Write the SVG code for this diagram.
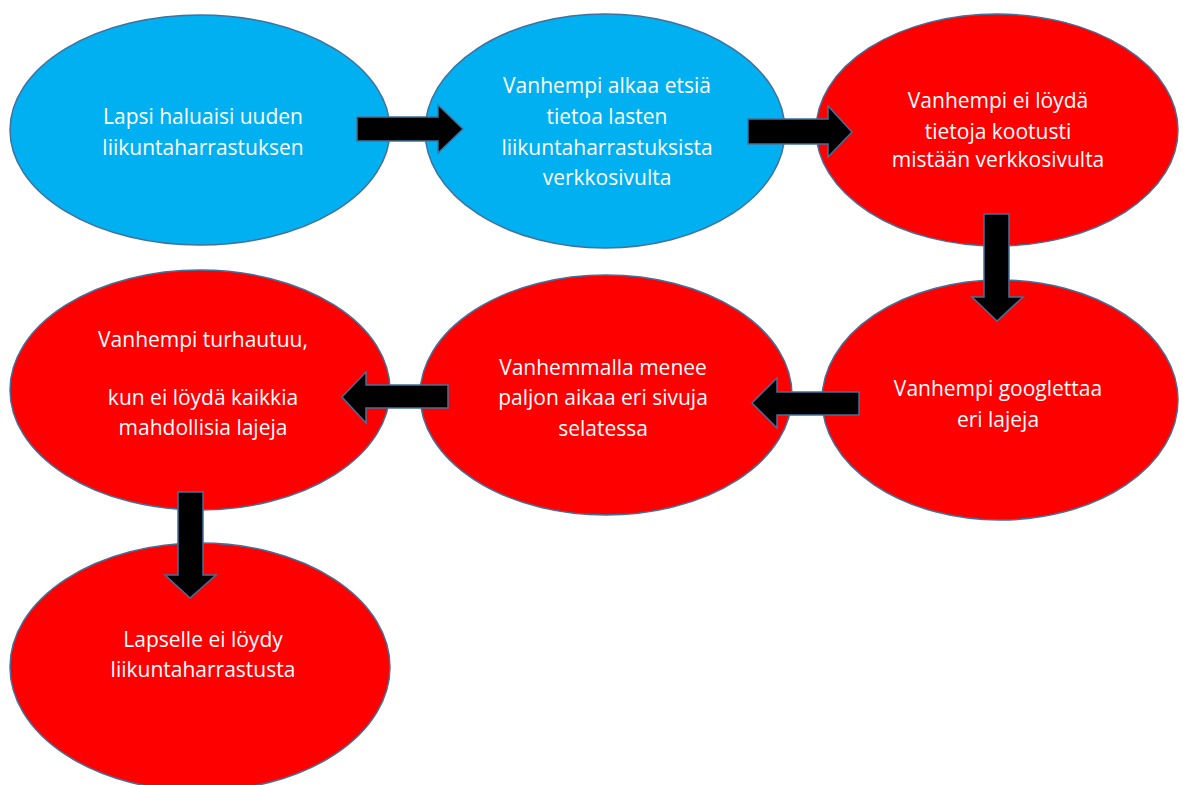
<svg xmlns="http://www.w3.org/2000/svg" width="1183" height="785" viewBox="0 0 1183 785">
<style>
.blue{fill:#00B0F0;stroke:#41719C;stroke-width:1.5}
.red{fill:#FF0000;stroke:#41719C;stroke-width:1.5}
.arr{fill:#000000;stroke:#41719C;stroke-width:1.5;stroke-linejoin:miter}
text{font-family:"Open Sans","Liberation Sans",sans-serif;font-size:21px;fill:#FFFFFF;text-anchor:middle}
</style>
<rect width="1183" height="785" fill="#FFFFFF"/>
<g id="n1">
<ellipse class="blue" cx="200" cy="130" rx="190" ry="115"/>
<text x="203" y="124">Lapsi haluaisi uuden</text>
<text x="203" y="155">liikuntaharrastuksen</text>
</g>
<g id="n2">
<ellipse class="blue" cx="605" cy="131" rx="180" ry="117"/>
<text x="607" y="93">Vanhempi alkaa etsiä</text>
<text x="607" y="124">tietoa lasten</text>
<text x="607" y="155">liikuntaharrastuksista</text>
<text x="607" y="185">verkkosivulta</text>
</g>
<g id="n3">
<ellipse class="red" cx="997" cy="130" rx="181" ry="116"/>
<text x="998" y="108">Vanhempi ei löydä</text>
<text x="998" y="139">tietoja kootusti</text>
<text x="998" y="167">mistään verkkosivulta</text>
</g>
<g id="n4">
<ellipse class="red" cx="1000" cy="400" rx="178" ry="120"/>
<text x="998" y="396">Vanhempi googlettaa</text>
<text x="998" y="427">eri lajeja</text>
</g>
<g id="n5">
<ellipse class="red" cx="606" cy="395" rx="186" ry="120"/>
<text x="603" y="375">Vanhemmalla menee</text>
<text x="603" y="405">paljon aikaa eri sivuja</text>
<text x="603" y="436">selatessa</text>
</g>
<g id="n6">
<ellipse class="red" cx="200" cy="390" rx="190" ry="120"/>
<text x="203" y="347">Vanhempi turhautuu,</text>
<text x="203" y="405">kun ei löydä kaikkia</text>
<text x="203" y="435">mahdollisia lajeja</text>
</g>
<g id="n7">
<ellipse class="red" cx="200" cy="667" rx="190" ry="124"/>
<text x="203" y="647">Lapselle ei löydy</text>
<text x="203" y="677">liikuntaharrastusta</text>
</g>
<g id="connectors">
<polygon class="arr" points="357,117 438,117 438,105 463,129 438,153 438,141 357,141"/>
<polygon class="arr" points="748,119 828,119 828,106 852,132 828,157 828,144 748,144"/>
<polygon class="arr" points="984,214 1009,214 1009,297 1023,297 997,321 972,297 984,297"/>
<polygon class="arr" points="859,392 859,415 777,415 777,428 752,403 777,378 777,392"/>
<polygon class="arr" points="448,385 448,408 366,408 366,423 342,397 366,372 366,385"/>
<polygon class="arr" points="178,492 203,492 203,575 216,575 190,598 165,575 178,575"/>
</g>
</svg>
